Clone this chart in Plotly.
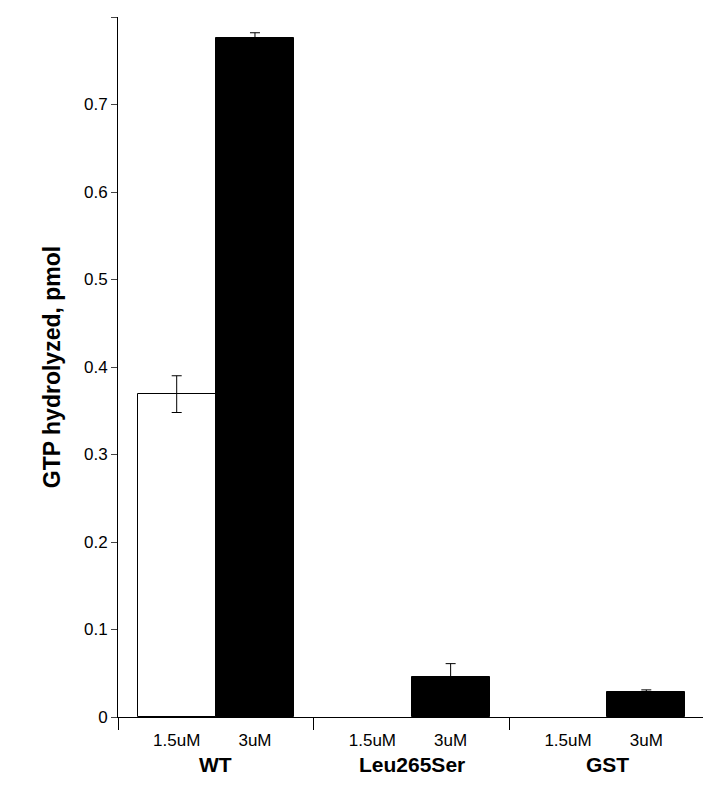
import plotly.graph_objects as go

groups = ["WT", "Leu265Ser", "GST"]
conc = ["1.5uM", "3uM"]
low_vals = [0.369, None, None]
low_err = [0.021, 0.0, 0.0]
high_vals = [0.776, 0.046, 0.029]
high_err = [0.006, 0.015, 0.002]

xs = list(range(len(groups)))
fig = go.Figure()
fig.add_trace(go.Bar(x=[i - 0.2 for i in xs], y=low_vals, width=0.4,
                     marker=dict(color="white", line=dict(color="black", width=1)),
                     error_y=dict(type="data", array=low_err, color="black", thickness=1, width=5)))
fig.add_trace(go.Bar(x=[i + 0.2 for i in xs], y=high_vals, width=0.4,
                     marker=dict(color="black", line=dict(color="black", width=1)),
                     error_y=dict(type="data", array=high_err, color="black", thickness=1, width=5)))
# invisible trace for group boundary ticks
fig.add_trace(go.Scatter(x=[-0.5, 2.5], y=[0, 0], xaxis="x2", mode="lines",
                         line=dict(width=0), hoverinfo="skip"))

tickvals = []
ticktext = []
for i in xs:
    tickvals += [i - 0.2, i + 0.2]
    ticktext += conc

fig.update_layout(
    width=711, height=800, showlegend=False,
    plot_bgcolor="white", paper_bgcolor="white",
    margin=dict(l=110, r=14, t=9, b=91),
    font=dict(family="Arial, Liberation Sans", color="black", size=17),
    bargap=0,
    xaxis=dict(range=[-0.5, 2.5], tickvals=tickvals, ticktext=ticktext, ticks="",
               showline=True, linecolor="black", linewidth=1, showgrid=False,
               zeroline=False, tickfont=dict(size=17), ticklabelstandoff=8),
    xaxis2=dict(range=[-0.5, 2.5], overlaying="x", tickvals=[-0.5, 0.5, 1.5, 2.5],
                ticks="outside", ticklen=12, tickcolor="black", showticklabels=False,
                showgrid=False, zeroline=False, side="bottom", anchor="y"),
    yaxis=dict(range=[0, 0.8], dtick=0.1, tickformat="~g", ticks="outside", ticklen=6,
               showline=True, linecolor="black", linewidth=1, showgrid=False,
               zeroline=False, tickfont=dict(size=17),
               title=dict(text="<b>GTP hydrolyzed, pmol</b>", font=dict(size=23), standoff=16)),
)

for i, g in enumerate(groups):
    fig.add_annotation(x=i, y=0, xref="x", yref="y", yshift=-47, showarrow=False,
                       text="<b>%s</b>" % g, font=dict(size=21))

fig.write_html("out.html")
